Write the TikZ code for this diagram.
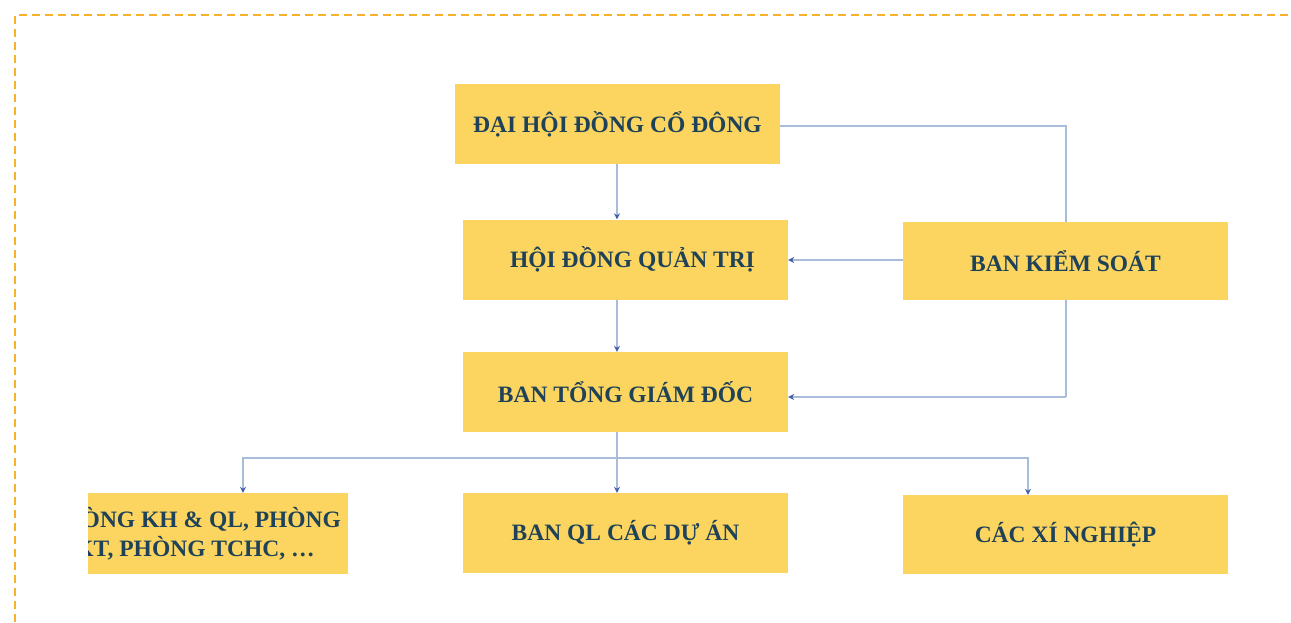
\documentclass[tikz,border=0pt]{standalone}
\usepackage{fontspec}
\setmainfont{Liberation Serif}
\usetikzlibrary{arrows.meta}
\definecolor{boxfill}{HTML}{FBD560}
\definecolor{boxtext}{HTML}{1F4258}
\definecolor{linec}{HTML}{A9BCDA}
\definecolor{tipc}{HTML}{3F5FA8}
\definecolor{borderc}{HTML}{F7B12A}
\tikzset{
  orgbox/.style={fill=boxfill, draw=none, minimum width=325pt, minimum height=80pt,
    inner sep=0pt, text=boxtext, font=\bfseries\fontsize{23.5}{29}\selectfont, align=center},
  link/.style={draw=linec, line width=1.6pt},
  arr/.style={link, -{Stealth[length=6pt,width=6pt,color=tipc]}},
}
\begin{document}
\begin{tikzpicture}[x=1pt,y=-1pt]
\useasboundingbox[fill=white] (0,0) rectangle (1291,622);
\draw[borderc, line width=2pt, dash pattern=on 8pt off 5pt] (15,622) -- (15,15) -- (1291,15);

\node[orgbox] (dhdcd) at (617.5,124) {ĐẠI HỘI ĐỒNG CỔ ĐÔNG};
\node[orgbox] (hdqt) at (625.5,259.5) {\hspace*{14pt}HỘI ĐỒNG QUẢN TRỊ};
\node[orgbox, minimum height=78pt] (bks) at (1065.5,261) {BAN KIỂM SOÁT};
\node[orgbox] (btgd) at (625.5,392) {BAN TỔNG GIÁM ĐỐC};
\begin{scope}
  \clip (88,480) rectangle (400,590);
  \node[orgbox, minimum height=81pt] (phong) at (185.5,533.5) {\hspace*{19pt}PHÒNG KH \& QL, PHÒNG\\\hspace*{19pt}KT, PHÒNG TCHC, \dots};
\end{scope}
\node[orgbox] (banql) at (625.5,533) {BAN QL CÁC DỰ ÁN};
\node[orgbox, minimum height=79pt] (xn) at (1065.5,534.5) {CÁC XÍ NGHIỆP};

\coordinate (bus) at (617,458);
\coordinate (bksturn) at (1066,397);
\draw[arr] (617,0 |- dhdcd.south) -- (617,0 |- hdqt.north);
\draw[link] (dhdcd.east |- 0,126) -- (1066,126) -- (1066,0 |- bks.north);
\draw[arr] (bks.west |- 0,260) -- (hdqt.east |- 0,260);
\draw[link] (1066,0 |- bks.south) -- (bksturn);
\draw[arr] (bksturn) -- (btgd.east |- bksturn);
\draw[arr] (617,0 |- hdqt.south) -- (617,0 |- btgd.north);
\draw[link] (617,0 |- btgd.south) -- (bus);
\draw[arr] (bus) -- (617,0 |- banql.north);
\draw[arr] (bus) -- (243,458) -- (243,0 |- phong.north);
\draw[arr] (bus) -- (1028,458) -- (1028,0 |- xn.north);
\end{tikzpicture}
\end{document}
